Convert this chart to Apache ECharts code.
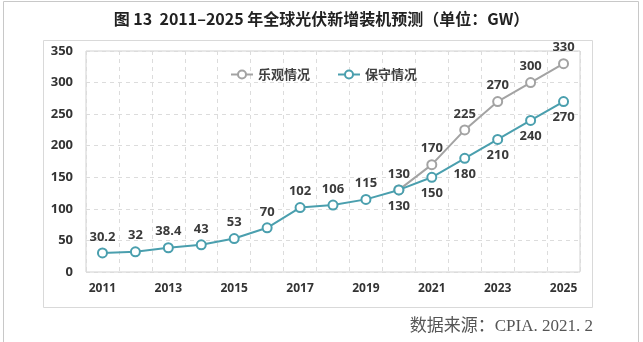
<!DOCTYPE html>
<html>
<head>
<meta charset="utf-8">
<script src="https://cdn.jsdelivr.net/npm/echarts@6/dist/echarts.min.js"></script>
<style>
html,body{margin:0;padding:0;background:#fff;}
#c{width:643px;height:342px;}
</style>
</head>
<body>
<div id="c"></div>
<script>
var years = ['2011','2012','2013','2014','2015','2016','2017','2018','2019','2020','2021','2022','2023','2024','2025'];
var optimistic = [null,null,null,null,null,null,null,null,null,130,170,225,270,300,330];
var conservative = [30.2,32,38.4,43,53,70,102,106,115,130,150,180,210,240,270];
var seriesNames = ['乐观情况','保守情况'];
var titleText = '图 13  2011–2025 年全球光伏新增装机预测（单位：GW）';
var sourceText = '数据来源：CPIA. 2021. 2';

var forecastStart = years.indexOf('2020');
var teal = '#4a9fae';
var grey = '#a3a3a3';
var labelFont = {fontFamily:'Open Sans', fontWeight:'bold', fontSize:13, color:'#3a3a3a'};

var optData = optimistic.map(function(v){ return v === null ? '-' : v; });
var consData = conservative.map(function(v, i){
  return {value: v, label: {position: i >= forecastStart ? 'bottom' : 'top'}};
});

var chart = echarts.init(document.getElementById('c'), null, {renderer:'canvas'});
chart.setOption({
  animation: false,
  backgroundColor: '#fff',
  title: {
    text: titleText,
    left: 'center',
    top: 6,
    textStyle: {fontFamily:'Noto Sans CJK SC', fontWeight:'bold', fontSize:16, color:'#222'}
  },
  graphic: [
    {type:'rect', shape:{x:3.5, y:1.5, width:635, height:360}, style:{fill:'none', stroke:'#c8c8c8', lineWidth:1}, silent:true, z:-10},
    {type:'rect', shape:{x:43.5, y:40.5, width:549, height:267}, style:{fill:'none', stroke:'#d9d9d9', lineWidth:1}, silent:true, z:-10},
    {type:'text', right:50, top:318, style:{text:sourceText, font:'17px "Liberation Serif", "Noto Sans CJK SC"', fill:'#555'}}
  ],
  legend: {
    data: seriesNames,
    left: 225,
    top: 63,
    itemWidth: 22,
    itemHeight: 10,
    itemGap: 27,
    textStyle: {fontFamily:'Noto Sans CJK SC', fontWeight:'bold', fontSize:13, color:'#404040'}
  },
  grid: {
    left: 86, top: 51, right: 63, bottom: 70,
    show: true, borderColor: '#d0d0d0', borderWidth: 1,
    containLabel: false
  },
  xAxis: {
    type: 'category',
    data: years,
    boundaryGap: true,
    axisLine: {show:false},
    axisTick: {show:false},
    axisLabel: {interval:1, margin:11, fontFamily:'Open Sans', fontWeight:'bold', fontSize:12, color:'#333'},
    splitLine: {show:true, interval:0, lineStyle:{color:'#dcdcdc', type:[4,4], width:1}}
  },
  yAxis: {
    type: 'value',
    min: 0, max: 350, interval: 50,
    axisLine: {show:false},
    axisTick: {show:false},
    axisLabel: {margin:13, fontFamily:'Open Sans', fontWeight:'bold', fontSize:13, color:'#333'},
    splitLine: {show:true, lineStyle:{color:'#dcdcdc', type:[4,4], width:1}}
  },
  series: [
    {
      name: seriesNames[0],
      type: 'line',
      data: optData,
      symbol: 'circle',
      symbolSize: 9,
      lineStyle: {color: grey, width: 2},
      itemStyle: {color: '#fff', borderColor: grey, borderWidth: 2},
      label: Object.assign({show:true, position:'top', distance:4}, labelFont),
      z: 2
    },
    {
      name: seriesNames[1],
      type: 'line',
      data: consData,
      symbol: 'circle',
      symbolSize: 9,
      lineStyle: {color: teal, width: 2},
      itemStyle: {color: '#fff', borderColor: teal, borderWidth: 2},
      label: Object.assign({show:true, position:'top', distance:4}, labelFont),
      z: 3
    }
  ]
});
</script>
</body>
</html>
